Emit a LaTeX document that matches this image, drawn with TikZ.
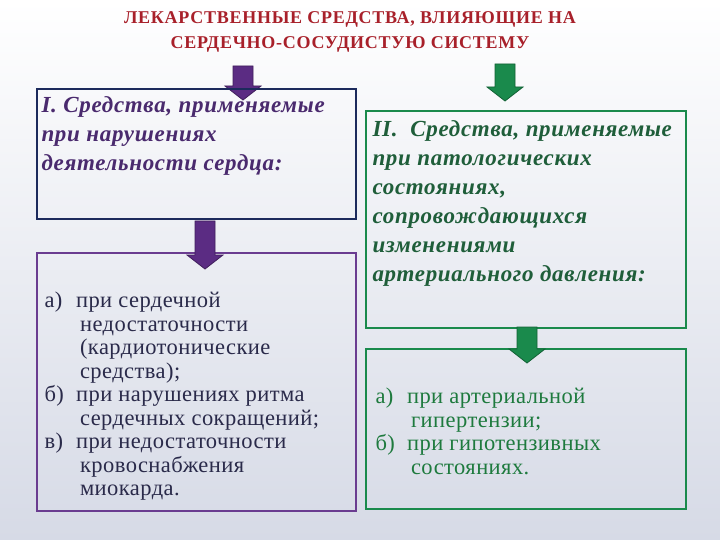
\documentclass[tikz,border=0pt]{standalone}
\usepackage{fontspec}
\setmainfont{Liberation Serif}
\definecolor{titlered}{HTML}{A8202A}
\definecolor{navyline}{HTML}{1C2A5C}
\definecolor{violet}{HTML}{5B2C83}
\definecolor{headviolet}{HTML}{4A2A6E}
\definecolor{violetline}{HTML}{6A3C90}
\definecolor{greenline}{HTML}{1A8A4C}
\definecolor{greentext}{HTML}{1F5E3A}
\definecolor{greenlist}{HTML}{1E7A3E}
\definecolor{listtext}{HTML}{2A2A4A}
% block arrow pointing down: x, top y, bottom y, colour
\newcommand\blockdown[4]{%
  \fill[#4, draw=#4!70!black, line width=0.8pt]
    (#1-10,#2) -- (#1+10,#2) -- (#1+10,#3-14) -- (#1+18,#3-14) -- (#1,#3)
    -- (#1-18,#3-14) -- (#1-10,#3-14) -- cycle;}

\begin{document}
\begin{tikzpicture}[x=1pt,y=-1pt,
  box/.style={draw, line width=2.2pt, anchor=north west, inner sep=0pt},
  head/.style={font=\fontsize{23}{29}\selectfont\bfseries\itshape\addfontfeature{LetterSpace=3},
    align=left, anchor=north west},
  items/.style={font=\fontsize{22.5}{23.5}\selectfont\addfontfeature{LetterSpace=2}, anchor=north west}]
% background
\shade[top color=white, bottom color={rgb,255:red,214;green,218;blue,230}] (0,0) rectangle (720,540);
\useasboundingbox (0,0) rectangle (720,540);
% title
\node[font=\fontsize{18}{25}\selectfont\bfseries\addfontfeature{LetterSpace=4}, text=titlered, align=center] (title) at (350,32)
  {ЛЕКАРСТВЕННЫЕ СРЕДСТВА, ВЛИЯЮЩИЕ НА\\СЕРДЕЧНО-СОСУДИСТУЮ СИСТЕМУ};
% arrows
\blockdown{243}{66}{100}{violet}
\blockdown{505}{64}{101}{greenline}
% boxes
\node[box, draw=navyline, minimum width=319pt, minimum height=130pt] (heart) at (36,88) {};
\node[box, draw=greenline, minimum width=320pt, minimum height=217pt] (press) at (365,110) {};
\node[box, draw=violetline, minimum width=319pt, minimum height=258pt] (heartlist) at (36,252) {};
\node[box, draw=greenline, minimum width=320pt, minimum height=160pt] (presslist) at (365,348) {};
\blockdown{205}{221}{269}{violet}
\blockdown{527}{327}{363}{greenline}
% texts
\node[head, text=headviolet] (heartname) at ([xshift=2pt,yshift=-5pt]heart.north west)
  {I. Средства, применяемые\\при нарушениях\\деятельности сердца:};
\node[head, text=greentext] (pressname) at ([xshift=4pt,yshift=-7pt]press.north west)
  {II.\ \ Средства, применяемые\\при патологических\\состояниях,\\сопровождающихся\\изменениями\\артериального давления:};
\node[items, text=listtext] (heartitems) at ([xshift=5pt,yshift=-36pt]heartlist.north west)
  {\begin{tabular}{@{}l@{\ \ }l@{}}
   а) & при сердечной\\
      & \hspace*{4pt}недостаточности\\
      & \hspace*{4pt}(кардиотонические\\
      & \hspace*{4pt}средства);\\
   б) & при нарушениях ритма\\
      & \hspace*{4pt}сердечных сокращений;\\
   в) & при недостаточности\\
      & \hspace*{4pt}кровоснабжения\\
      & \hspace*{4pt}миокарда.
   \end{tabular}};
\node[items, text=greenlist] (pressitems) at ([xshift=7pt,yshift=-36pt]presslist.north west)
  {\begin{tabular}{@{}l@{\ \ }l@{}}
   а) & при артериальной\\
      & \hspace*{4pt}гипертензии;\\
   б) & при гипотензивных\\
      & \hspace*{4pt}состояниях.
   \end{tabular}};
\end{tikzpicture}
\end{document}
